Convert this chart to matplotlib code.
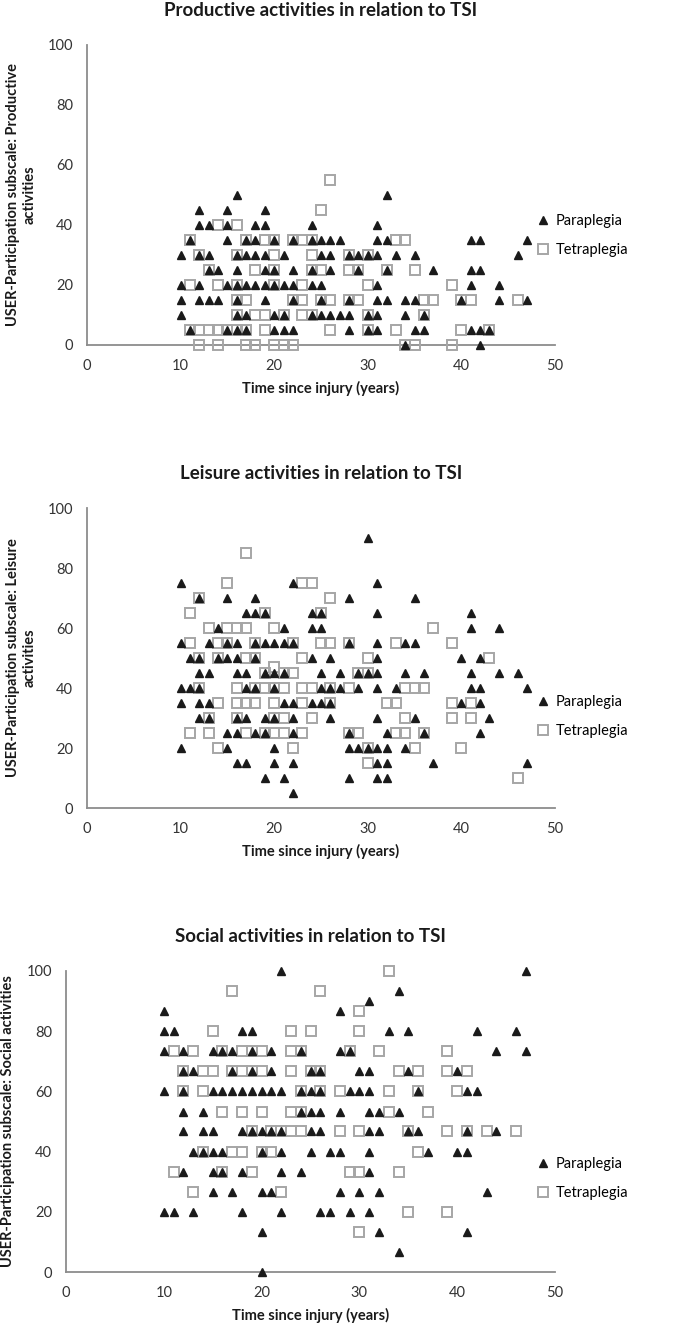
import matplotlib
matplotlib.use('Agg')
import matplotlib.pyplot as plt
from matplotlib.lines import Line2D

plt.rcParams['font.family'] = ['Lato', 'DejaVu Sans']

# ---------------- data (score level -> list of years since injury) ----------------
prod_para = [
    (50, [16, 32]),
    (45, [12, 15, 19]),
    (40, [12, 13, 15, 18, 19, 24, 31]),
    (35, [11, 15, 17, 18, 20, 22, 24, 25, 26, 27, 31, 32, 41, 42, 47]),
    (30, [10, 12, 13, 16, 17, 18, 19, 21, 25, 26, 28, 29, 30, 31, 33, 35, 46]),
    (25, [13, 14, 16, 19, 20, 22, 24, 26, 29, 32, 37, 41, 42]),
    (20, [10, 12, 15, 16, 17, 18, 19, 20, 21, 22, 24, 25, 31, 41, 44]),
    (15, [10, 12, 13, 14, 16, 19, 22, 25, 28, 31, 32, 34, 35, 40, 44, 47]),
    (10, [10, 16, 17, 20, 21, 24, 25, 26, 27, 28, 30, 31, 34, 36]),
    (5, [11, 15, 16, 17, 20, 21, 22, 28, 30, 31, 35, 36, 41, 42, 43]),
    (0, [34, 42]),
]
prod_tetra = [
    (55, [26]),
    (45, [25]),
    (40, [14, 16]),
    (35, [11, 17, 19, 20, 22, 23, 24, 33, 34]),
    (30, [12, 16, 20, 24, 28, 30]),
    (25, [13, 18, 20, 24, 25, 28, 29, 32, 35]),
    (20, [11, 14, 16, 20, 23, 30, 39]),
    (15, [16, 17, 22, 23, 25, 26, 28, 29, 36, 37, 40, 41, 46]),
    (10, [16, 18, 19, 21, 23, 24, 30, 36]),
    (5, [11, 12, 13, 14, 15, 16, 17, 19, 26, 30, 33, 40, 43]),
    (0, [12, 14, 17, 18, 20, 21, 22, 34, 35, 39]),
]
leis_para = [
    (90, [30]),
    (75, [10, 22, 31]),
    (70, [12, 15, 18, 28, 35]),
    (65, [17, 18, 19, 24, 25, 31, 41]),
    (60, [14, 21, 24, 25, 41, 44]),
    (55, [10, 13, 15, 16, 18, 19, 20, 21, 22, 28, 31, 34, 35]),
    (50, [11, 12, 14, 15, 16, 18, 24, 26, 31, 40, 42]),
    (45, [12, 13, 16, 17, 19, 20, 21, 25, 27, 29, 30, 31, 34, 36, 41, 44, 46]),
    (40, [10, 11, 12, 17, 18, 20, 25, 26, 27, 29, 31, 33, 41, 42, 47]),
    (35, [10, 12, 13, 21, 22, 24, 25, 26, 40, 42]),
    (30, [12, 13, 16, 17, 19, 20, 22, 26, 31, 35, 43]),
    (25, [15, 16, 18, 19, 22, 28, 32, 36, 42]),
    (20, [10, 15, 20, 28, 29, 30, 31, 32, 34]),
    (15, [16, 17, 20, 22, 31, 32, 37, 47]),
    (10, [19, 21, 28, 31, 32]),
    (5, [22]),
]
leis_tetra = [
    (85, [17]),
    (75, [15, 23, 24]),
    (70, [12, 26]),
    (65, [11, 19, 25]),
    (60, [13, 15, 16, 17, 20, 37]),
    (55, [11, 14, 15, 18, 22, 25, 26, 28, 33, 39]),
    (50, [12, 14, 17, 18, 23, 30, 43]),
    (47, [20]),
    (45, [19, 21, 22, 29, 30]),
    (40, [12, 16, 18, 19, 20, 21, 23, 24, 26, 28, 34, 35, 36]),
    (35, [14, 16, 17, 18, 20, 23, 26, 32, 33, 39, 41]),
    (30, [13, 16, 20, 21, 24, 34, 39, 41]),
    (25, [11, 13, 17, 19, 20, 21, 23, 28, 29, 33, 34, 36]),
    (20, [14, 22, 30, 35, 40]),
    (15, [30]),
    (10, [46]),
]
soc_para = [
    (100, [22, 47]),
    (93.3, [34]),
    (90, [31]),
    (86.7, [10, 28]),
    (80, [10, 11, 18, 19, 33, 35, 42, 46]),
    (73.3, [10, 12, 15, 16, 17, 19, 21, 24, 28, 29, 44, 47]),
    (66.7, [12, 13, 17, 19, 21, 25, 26, 30, 31, 35, 40]),
    (60, [10, 12, 15, 16, 17, 18, 19, 20, 21, 22, 24, 25, 26, 29, 30, 31, 36, 41, 42]),
    (53.3, [12, 14, 24, 25, 26, 28, 31, 32, 34]),
    (46.7, [12, 14, 15, 18, 19, 20, 21, 22, 25, 26, 31, 32, 35, 36, 41, 44]),
    (40, [13, 14, 15, 16, 20, 22, 25, 27, 28, 31, 37, 40, 41]),
    (33.3, [12, 15, 16, 18, 22, 24, 31]),
    (26.7, [15, 17, 20, 21, 28, 30, 32, 43]),
    (20, [10, 11, 13, 18, 22, 26, 27, 29, 31]),
    (13.3, [20, 32, 41]),
    (6.7, [34]),
    (0, [20]),
]
soc_tetra = [
    (100, [33]),
    (93.3, [17, 26]),
    (86.7, [30]),
    (80, [15, 23, 25, 30]),
    (73.3, [11, 13, 16, 18, 19, 20, 23, 24, 29, 32, 39]),
    (66.7, [12, 14, 15, 17, 18, 19, 20, 23, 25, 26, 34, 36, 39, 41]),
    (60, [12, 14, 24, 26, 28, 33, 36, 40]),
    (53.3, [16, 18, 20, 23, 24, 33, 37]),
    (46.7, [19, 21, 22, 23, 24, 28, 30, 35, 39, 41, 43, 46]),
    (40, [14, 17, 18, 20, 21, 36]),
    (33.3, [11, 16, 19, 29, 30, 34]),
    (26.7, [13, 22]),
    (20, [35, 39]),
    (13.3, [30]),
]

titles = ['Productive activities in relation to TSI',
          'Leisure activities in relation to TSI',
          'Social activities in relation to TSI']
ylabels = ['USER-Participation subscale: Productive\nactivities',
           'USER-Participation subscale: Leisure\nactivities',
           'USER-Participation subscale: Social activities']
xlabel = 'Time since injury (years)'
series_names = ['Paraplegia', 'Tetraplegia']
x_ticks = [0, 10, 20, 30, 40, 50]
y_ticks = [0, 20, 40, 60, 80, 100]


def expand(rows):
    xs, ys = [], []
    for yv, xl in rows:
        for xv in xl:
            xs.append(xv)
            ys.append(yv)
    return xs, ys


W, H = 685, 1330
fig = plt.figure(figsize=(W / 100, H / 100), dpi=100)

# axes boxes in pixels: left, x=50 right, y=0 bottom px, y=100 top px
boxes = [(87, 555, 345, 45), (87, 555, 808, 508), (66, 555, 1272, 971)]
legend_top = [222, 703, 1165]
data = [(prod_para, prod_tetra), (leis_para, leis_tetra), (soc_para, soc_tetra)]

AX_COL = '#8c8c8c'
SQ_COL = '#a6a6a6'
TRI_COL = '#1a1a1a'

for i in range(3):
    l, r, b, t = boxes[i]
    ax = fig.add_axes([l / W, 1 - b / H, (r - l) / W, (b - t) / H])
    para, tetra = data[i]
    tx, ty = expand(tetra)
    px, py = expand(para)
    ax.plot(tx, ty, linestyle='none', marker='s', markersize=7.2,
            markerfacecolor='none', markeredgecolor=SQ_COL, markeredgewidth=1.4,
            clip_on=False, zorder=3)
    ax.plot(px, py, linestyle='none', marker='^', markersize=6.3,
            color=TRI_COL, clip_on=False, zorder=4)
    ax.set_xlim(0, 50)
    ax.set_ylim(0, 100)
    ax.set_xticks(x_ticks)
    ax.set_yticks(y_ticks)
    ax.tick_params(length=0, labelsize=10.5, colors='#333333', pad=10)
    for s in ['top', 'right']:
        ax.spines[s].set_visible(False)
    for s in ['left', 'bottom']:
        ax.spines[s].set_color(AX_COL)
        ax.spines[s].set_linewidth(1.3)
    ax.set_title(titles[i], fontsize=13.5, fontweight='bold', color='#1a1a1a', pad=21)
    ax.set_xlabel(xlabel, fontsize=10.5, fontweight='bold', color='#1a1a1a', labelpad=6)
    ax.set_ylabel(ylabels[i], fontsize=10.5, fontweight='bold', color='#1a1a1a', labelpad=8)

    handles = [Line2D([], [], linestyle='none', marker='^', markersize=6.3, color=TRI_COL),
               Line2D([], [], linestyle='none', marker='s', markersize=7.2,
                      markerfacecolor='none', markeredgecolor=SQ_COL, markeredgewidth=1.4)]
    ax.legend(handles, series_names, loc='upper left',
              bbox_to_anchor=(528 / W, 1 - (legend_top[i] - 14) / H), bbox_transform=fig.transFigure,
              frameon=False, fontsize=10.5, handletextpad=0.3, handlelength=1.2,
              labelspacing=1.05, borderaxespad=0)

fig.savefig('out.png', dpi=100)
